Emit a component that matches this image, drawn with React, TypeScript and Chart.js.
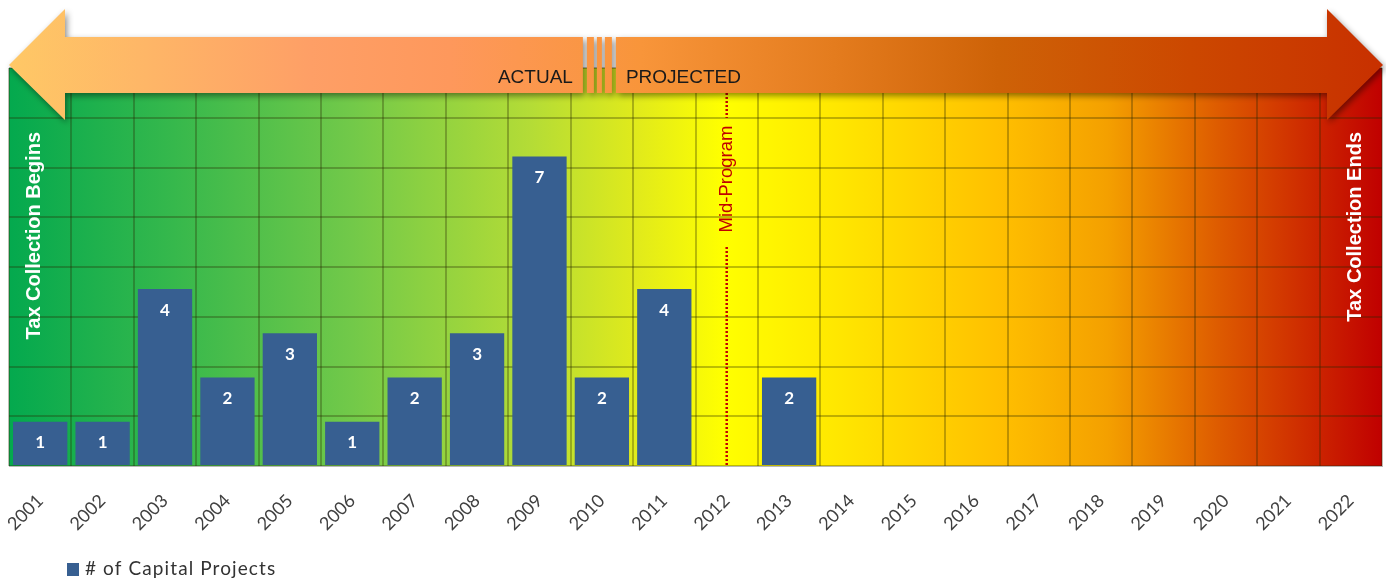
import { useEffect, useRef } from 'react';
import { Chart, registerables } from 'chart.js';

Chart.register(...registerables);

const years = ['2001', '2002', '2003', '2004', '2005', '2006', '2007', '2008', '2009', '2010', '2011', '2012', '2013', '2014', '2015', '2016', '2017', '2018', '2019', '2020', '2021', '2022'];
const projects: (number | null)[] = [1, 1, 4, 2, 3, 1, 2, 3, 7, 2, 4, null, 2, null, null, null, null, null, null, null, null, null];
const seriesLabel = '# of Capital Projects';
const actualLabel = 'ACTUAL';
const projectedLabel = 'PROJECTED';
const beginLabel = 'Tax Collection Begins';
const endLabel = 'Tax Collection Ends';
const midLabel = 'Mid-Program';
const midYear = '2012';
const breakYear = '2010';
const yMax = 9;
const yStep = 1.125;

const barColor = '#375F91';
const gridColor = 'rgba(40,40,0,0.3)';
const FONT = '"Liberation Sans", Arial, sans-serif';
const LATO = 'Lato, "Open Sans", sans-serif';

export default function App() {
  const ref = useRef<HTMLCanvasElement>(null);

  useEffect(() => {
    document.body.style.margin = '0';
    const canvas = ref.current!;

    const bgPlugin = {
      id: 'bg',
      beforeDraw(chart: any) {
        const { ctx, chartArea: a } = chart;
        const g = ctx.createLinearGradient(a.left, 0, a.right, 0);
        g.addColorStop(0, '#04A94E');
        g.addColorStop(0.12, '#36B84C');
        g.addColorStop(0.25, '#72C949');
        g.addColorStop(0.38, '#B4DC36');
        g.addColorStop(0.46, '#E2EB1A');
        g.addColorStop(0.52, '#FFFF00');
        g.addColorStop(0.6, '#FFE800');
        g.addColorStop(0.72, '#FFC000');
        g.addColorStop(0.8, '#F4A000');
        g.addColorStop(0.88, '#DE5C00');
        g.addColorStop(1, '#C00000');
        ctx.save();
        ctx.fillStyle = g;
        ctx.fillRect(a.left, a.top, a.right - a.left, a.bottom - a.top);
        ctx.restore();
      },
    };

    const labelPlugin = {
      id: 'vals',
      afterDatasetsDraw(chart: any) {
        const { ctx } = chart;
        const meta = chart.getDatasetMeta(0);
        ctx.save();
        ctx.fillStyle = '#FFFFFF';
        ctx.font = `bold 17px ${LATO}`;
        ctx.textAlign = 'center';
        ctx.textBaseline = 'middle';
        meta.data.forEach((bar: any, i: number) => {
          const v = projects[i];
          if (v == null) return;
          ctx.fillText(String(v), bar.x, bar.y + 21);
        });
        ctx.restore();
      },
    };

    const decoPlugin = {
      id: 'deco',
      afterDraw(chart: any) {
        const { ctx, chartArea: a } = chart;
        const xs = chart.scales.x;

        // Mid-program dotted line
        const mx = xs.getPixelForValue(years.indexOf(midYear));
        ctx.save();
        ctx.strokeStyle = '#C00000';
        ctx.lineWidth = 2.5;
        ctx.setLineDash([2, 2]);
        ctx.beginPath();
        ctx.moveTo(mx, 93);
        ctx.lineTo(mx, 118);
        ctx.moveTo(mx, 247);
        ctx.lineTo(mx, a.bottom);
        ctx.stroke();
        ctx.setLineDash([]);
        ctx.translate(mx, 179);
        ctx.rotate(-Math.PI / 2);
        ctx.fillStyle = '#C00000';
        ctx.font = `18.5px ${FONT}`;
        ctx.textAlign = 'center';
        ctx.textBaseline = 'middle';
        ctx.fillText(midLabel, 0, 0);
        ctx.restore();

        // vertical side labels
        const side = (text: string, x: number) => {
          ctx.save();
          ctx.translate(x, 132);
          ctx.rotate(-Math.PI / 2);
          ctx.fillStyle = '#FFFFFF';
          ctx.font = `bold 20px ${FONT}`;
          ctx.textAlign = 'right';
          ctx.textBaseline = 'middle';
          ctx.fillText(text, 0, 0);
          ctx.restore();
        };
        side(beginLabel, a.left + 25);
        side(endLabel, a.right - 27);

        // double arrow
        const L = a.left;
        const R = a.right + 1;
        const top = 9, st = 37, sb = 93, bot = 120, tipY = 65;
        const hw = 56;
        const bx = xs.getPixelForValue(years.indexOf(breakYear));
        const g = ctx.createLinearGradient(L, 0, R, 0);
        g.addColorStop(0, '#FFC866');
        g.addColorStop(0.1, '#FEB667');
        g.addColorStop(0.22, '#FE9F66');
        g.addColorStop(0.32, '#FE985C');
        g.addColorStop(0.42, '#FA9644');
        g.addColorStop(0.46, '#F8953A');
        g.addColorStop(0.6, '#E47C1E');
        g.addColorStop(0.72, '#CE6207');
        g.addColorStop(0.86, '#CC4800');
        g.addColorStop(1, '#C83000');
        ctx.save();
        ctx.shadowColor = 'rgba(0,0,0,0.45)';
        ctx.shadowBlur = 6;
        ctx.shadowOffsetX = 2;
        ctx.shadowOffsetY = 3;
        ctx.fillStyle = g;
        ctx.beginPath();
        ctx.moveTo(L, tipY);
        ctx.lineTo(L + hw, top);
        ctx.lineTo(L + hw, st);
        ctx.lineTo(bx - 19, st);
        ctx.lineTo(bx - 19, sb);
        ctx.lineTo(L + hw, sb);
        ctx.lineTo(L + hw, bot);
        ctx.closePath();
        const stripes: [number, number][] = [[-15, -8], [-5, 0], [3, 10]];
        stripes.forEach(([s, e]) => {
          ctx.rect(bx + s, st, e - s, sb - st);
        });
        ctx.moveTo(bx + 14, st);
        ctx.lineTo(R - hw, st);
        ctx.lineTo(R - hw, top);
        ctx.lineTo(R, tipY);
        ctx.lineTo(R - hw, bot);
        ctx.lineTo(R - hw, sb);
        ctx.lineTo(bx + 14, sb);
        ctx.closePath();
        ctx.fill();
        ctx.restore();

        ctx.save();
        ctx.fillStyle = '#1A1A1A';
        ctx.font = `19px ${FONT}`;
        ctx.textBaseline = 'alphabetic';
        ctx.textAlign = 'right';
        ctx.fillText(actualLabel, bx - 29, 83);
        ctx.textAlign = 'left';
        ctx.fillText(projectedLabel, bx + 24, 83);
        ctx.restore();

        // legend
        ctx.save();
        ctx.fillStyle = barColor;
        ctx.fillRect(67, 563, 12, 13);
        ctx.fillStyle = '#333333';
        ctx.font = `19px ${LATO}`;
        (ctx as any).letterSpacing = '1.1px';
        ctx.textAlign = 'left';
        ctx.textBaseline = 'middle';
        ctx.fillText(seriesLabel, 85, 569);
        ctx.restore();
      },
    };

    const chart = new Chart(canvas, {
      type: 'bar',
      data: {
        labels: years,
        datasets: [
          {
            label: seriesLabel,
            data: projects,
            backgroundColor: barColor,
            barPercentage: 0.87,
            categoryPercentage: 1,
          },
        ],
      },
      options: {
        animation: false,
        responsive: false,
        layout: { padding: { left: 9, right: 4, top: 68, bottom: 0 } },
        plugins: { legend: { display: false }, tooltip: { enabled: false } },
        scales: {
          x: {
            grid: { color: gridColor, lineWidth: 2, drawTicks: false, offset: true },
            border: { display: true, color: '#B8B8B8', width: 1 },
            ticks: {
              autoSkip: false,
              maxRotation: 45,
              minRotation: 45,
              padding: 24,
              color: '#404040',
              font: { family: LATO, size: 18 },
            },
            afterFit: (s: any) => {
              s.height = 118;
              s.paddingLeft = 0;
              s.paddingRight = 0;
            },
          },
          y: {
            min: 0,
            max: yMax,
            ticks: { display: false, stepSize: yStep },
            grid: { color: gridColor, lineWidth: 2, drawTicks: false },
            border: { display: false },
            afterFit: (s: any) => {
              s.width = 0;
            },
          },
        },
      } as any,
      plugins: [bgPlugin, labelPlugin, decoPlugin],
    });

    return () => chart.destroy();
  }, []);

  return <canvas ref={ref} width={1386} height={584} style={{ display: 'block' }} />;
}
